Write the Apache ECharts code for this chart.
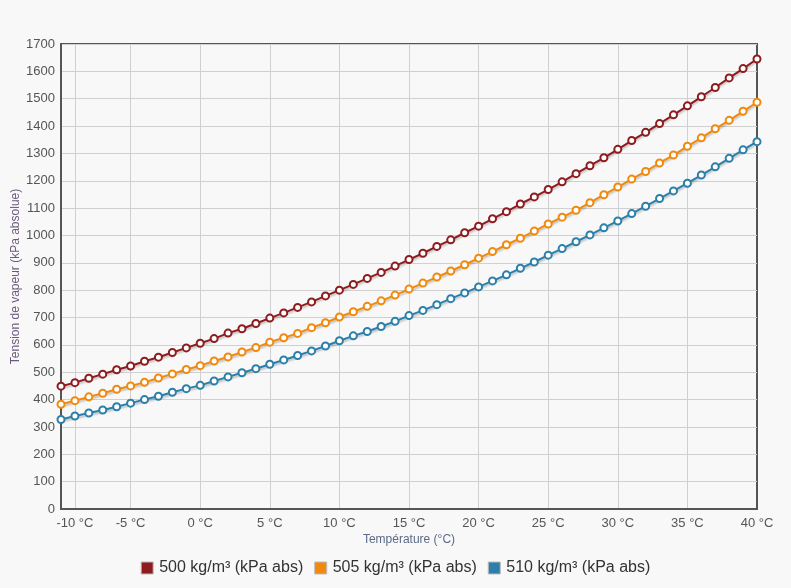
<!DOCTYPE html>
<html>
<head>
<meta charset="utf-8">
<script src="https://cdn.jsdelivr.net/npm/echarts@6.0.0/dist/echarts.min.js"></script>
<style>
  html, body { margin: 0; padding: 0; background: #f8f8f8; }
  #chart { width: 791px; height: 588px; }
</style>
</head>
<body>
<div id="chart"></div>
<script>
// températures -10 .. 40 °C
const temperatures = []
for (let t = -10; t <= 40; t++) temperatures.push(t)

// position des graduations (index) et libellés
const tickIndex = [1, 5, 10, 15, 20, 25, 30, 35, 40, 45, 50]
const tickLabels = ['-10 °C', '-5 °C', '0 °C', '5 °C', '10 °C', '15 °C', '20 °C', '25 °C', '30 °C', '35 °C', '40 °C']

const seriesNames = ['500 kg/m³ (kPa abs)', '505 kg/m³ (kPa abs)', '510 kg/m³ (kPa abs)']

const p500 = [
  449, 462, 478, 493, 509, 523, 540, 555, 572, 589, 606, 623, 643, 659, 678, 698, 717,
  737, 757, 779, 800, 821, 843, 865, 888, 912, 935, 960, 984, 1010, 1034, 1061, 1087, 1115,
  1141, 1168, 1196, 1226, 1255, 1284, 1315, 1347, 1377, 1409, 1441, 1474, 1507, 1541, 1576, 1610, 1645
]
const p505 = [
  383, 396, 410, 423, 438, 450, 463, 479, 494, 510, 524, 541, 556, 574, 590, 610, 626,
  642, 663, 681, 702, 721, 741, 761, 782, 804, 826, 848, 870, 893, 917, 941, 966, 990,
  1016, 1042, 1067, 1092, 1120, 1149, 1177, 1206, 1234, 1265, 1294, 1326, 1357, 1390, 1421, 1454, 1487
]
const p510 = [
  327, 340, 351, 362, 374, 387, 400, 412, 427, 440, 452, 468, 483, 498, 513, 529, 545,
  561, 578, 596, 615, 633, 649, 667, 686, 707, 726, 747, 769, 790, 812, 834, 856, 880,
  903, 928, 952, 977, 1002, 1028, 1053, 1080, 1107, 1135, 1163, 1191, 1221, 1251, 1282, 1313, 1343
]

const colors = ['#8e1c1f', '#f18a0c', '#2b7fab']

const chart = echarts.init(document.getElementById('chart'))

const makeSeries = (name, data, color) => ({
  name,
  type: 'line',
  data,
  symbol: 'emptyCircle',
  symbolSize: 7,
  itemStyle: { color, borderWidth: 2 },
  lineStyle: {
    width: 2,
    color,
    shadowColor: 'rgba(0,0,0,0.25)',
    shadowBlur: 2,
    shadowOffsetY: 2
  },
  animation: false
})

const isTick = (i) => tickIndex.indexOf(i) >= 0

chart.setOption({
  backgroundColor: '#f8f8f8',
  textStyle: { fontFamily: 'Liberation Sans, Arial, sans-serif' },
  grid: {
    left: 61,
    right: 34,
    top: 44,
    bottom: 79,
    outerBoundsMode: 'none',
    containLabel: false,
    show: true,
    backgroundColor: '#f8f8f8',
    borderColor: '#555',
    borderWidth: 2
  },
  legend: {
    bottom: 7,
    left: 'center',
    icon: 'rect',
    itemWidth: 12,
    itemHeight: 12,
    itemGap: 11,
    itemStyle: { borderColor: '#bbb', borderWidth: 1 },
    textStyle: { fontSize: 16, color: '#333', padding: [0, 0, 0, 1] },
    data: seriesNames
  },
  xAxis: {
    type: 'category',
    boundaryGap: false,
    data: temperatures,
    name: 'Température (°C)',
    nameLocation: 'middle',
    nameGap: 25,
    nameMoveOverlap: false,
    nameTextStyle: { color: '#5b6a86', fontSize: 12 },
    axisLine: { lineStyle: { color: '#555', width: 2 } },
    axisTick: { show: false },
    axisLabel: {
      interval: (i) => isTick(i),
      formatter: (v, i) => tickLabels[tickIndex.indexOf(i)],
      color: '#555',
      fontSize: 13,
      margin: 8
    },
    splitLine: {
      show: true,
      interval: (i) => isTick(i) && i !== 50,
      lineStyle: { color: '#d0d0d0' }
    }
  },
  yAxis: {
    type: 'value',
    min: 0,
    max: 1700,
    interval: 100,
    name: 'Tension de vapeur (kPa absolue)',
    nameLocation: 'middle',
    nameGap: 39,
    nameMoveOverlap: false,
    nameTextStyle: { color: '#6c5a7c', fontSize: 12 },
    axisLine: { show: true, lineStyle: { color: '#555', width: 2 } },
    axisTick: { show: false },
    axisLabel: { color: '#555', fontSize: 13, margin: 6, formatter: (v) => String(v) },
    splitLine: { lineStyle: { color: '#d0d0d0' } }
  },
  series: [
    makeSeries(seriesNames[0], p500, colors[0]),
    makeSeries(seriesNames[1], p505, colors[1]),
    makeSeries(seriesNames[2], p510, colors[2])
  ]
})
</script>
</body>
</html>
